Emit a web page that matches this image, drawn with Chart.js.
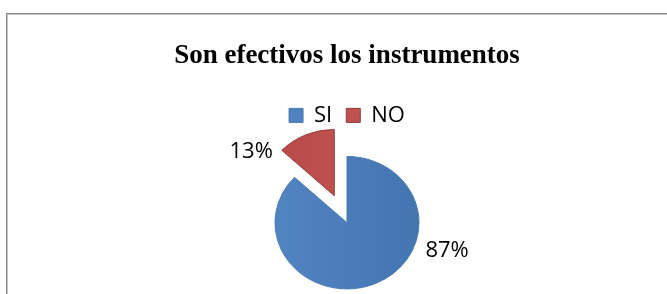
<!DOCTYPE html>
<html>
<head>
<meta charset="utf-8">
<script src="https://cdn.jsdelivr.net/npm/chart.js@4/dist/chart.umd.min.js"></script>
<style>
    html, body { margin: 0; padding: 0; background: #fff; overflow: hidden; }
    .frame {
        position: absolute; left: 6px; top: 13px;
        width: 700px; height: 400px;
        border: 1px solid #8a8a8a;
        box-shadow: inset 1px 1px 0 #c4c4c4;
    }
    #c-pie { position: absolute; left: 0; top: 0; }
</style>
</head>
<body>
<div class="frame">
    <canvas id="c-pie" width="680" height="295"></canvas>
</div>
<script>
const TITLE  = 'Son efectivos los instrumentos';
const LABELS = ['SI', 'NO'];
const VALUES = [87, 13];

const BLUE = '#4a7ebb';
const RED  = '#c0504d';
const TILT = 0.92;   // the original pie is seen slightly from above

function midAngle(arc) {
    return (arc.startAngle + arc.endAngle) / 2;
}

/* ── squash the pie vertically a little ── */
const tilt = {
    id: 'tilt',
    beforeDatasetsDraw(chart) {
        const cy = chart.getDatasetMeta(0).data[0].y;
        chart.ctx.save();
        chart.ctx.translate(0, cy);
        chart.ctx.scale(1, TILT);
        chart.ctx.translate(0, -cy);
    },
    afterDatasetsDraw(chart) {
        chart.ctx.restore();
    }
};

/* ── pull slices out of the pie without growing them (built-in offset enlarges small slices) ── */
const explode = {
    id: 'explode',
    beforeDatasetsDraw(chart, args, opts) {
        chart.getDatasetMeta(0).data.forEach((arc, i) => {
            const d = opts.distances[i] || 0;
            arc._home = { x: arc.x, y: arc.y };
            arc.x += Math.cos(midAngle(arc)) * d;
            arc.y += Math.sin(midAngle(arc)) * d;
        });
    },
    afterDatasetsDraw(chart) {
        chart.getDatasetMeta(0).data.forEach(arc => {
            if (arc._home) { arc.x = arc._home.x; arc.y = arc._home.y; }
        });
    }
};

/* ── draws the percentage beside each slice ── */
const pctLabels = {
    id: 'pctLabels',
    afterDatasetsDraw(chart, args, opts) {
        const ctx   = chart.ctx;
        const meta  = chart.getDatasetMeta(0);
        const dist  = chart.options.plugins.explode.distances;
        const total = VALUES.reduce((a, b) => a + b, 0);
        ctx.save();
        ctx.font = opts.font;
        ctx.fillStyle = opts.color;
        ctx.textBaseline = 'middle';
        meta.data.forEach((arc, i) => {
            const mid = midAngle(arc);
            const d   = dist[i] || 0;
            const cx  = arc.x + Math.cos(mid) * d;
            const cy  = arc.y + Math.sin(mid) * d;
            const a   = (opts.angles[i] - 90) * Math.PI / 180;
            const r   = arc.outerRadius + opts.gaps[i];
            const x   = cx + Math.cos(a) * r;
            const y   = arc.y + (cy + Math.sin(a) * r - arc.y) * TILT;
            ctx.textAlign = Math.cos(a) < 0 ? 'right' : 'left';
            ctx.fillText(Math.round(VALUES[i] / total * 100) + '%', x, y);
        });
        ctx.restore();
    }
};

function sliceFill(c) {
    const area = c.chart.chartArea;
    if (!area) return c.dataIndex === 0 ? BLUE : RED;
    const g = c.chart.ctx.createLinearGradient(area.left + 250, 0, area.left + 420, 0);
    if (c.dataIndex === 0) {
        g.addColorStop(0, '#5386c4');
        g.addColorStop(1, '#4374b0');
    } else {
        g.addColorStop(0, '#b84845');
        g.addColorStop(1, '#c55a57');
    }
    return g;
}

new Chart(document.getElementById('c-pie'), {
    type: 'pie',
    data: {
        labels: LABELS,
        datasets: [{
            data: VALUES,
            backgroundColor: sliceFill,
            borderColor: ['#4a79b3', '#8e3a38'],
            borderWidth: 1
        }]
    },
    options: {
        responsive: false,
        animation: false,
        radius: 72,
        layout: { padding: 0 },
        plugins: {
            title: {
                display: true,
                text: TITLE,
                color: '#000',
                font: { family: '"Liberation Serif", "Times New Roman", serif', size: 27, weight: 'bold' },
                padding: { top: 26, bottom: 18 }
            },
            legend: {
                position: 'top',
                labels: {
                    color: '#000',
                    font: { family: '"Open Sans", sans-serif', size: 22 },
                    boxWidth: 14,
                    boxHeight: 14,
                    padding: 14
                }
            },
            tooltip: { enabled: false },
            explode: { distances: [0, 32] },
            pctLabels: {
                font: '22px "Open Sans", sans-serif',
                color: '#000',
                angles: [111, 308],
                gaps: [12, 6]
            }
        }
    },
    plugins: [tilt, explode, pctLabels]
});
</script>
</body>
</html>
